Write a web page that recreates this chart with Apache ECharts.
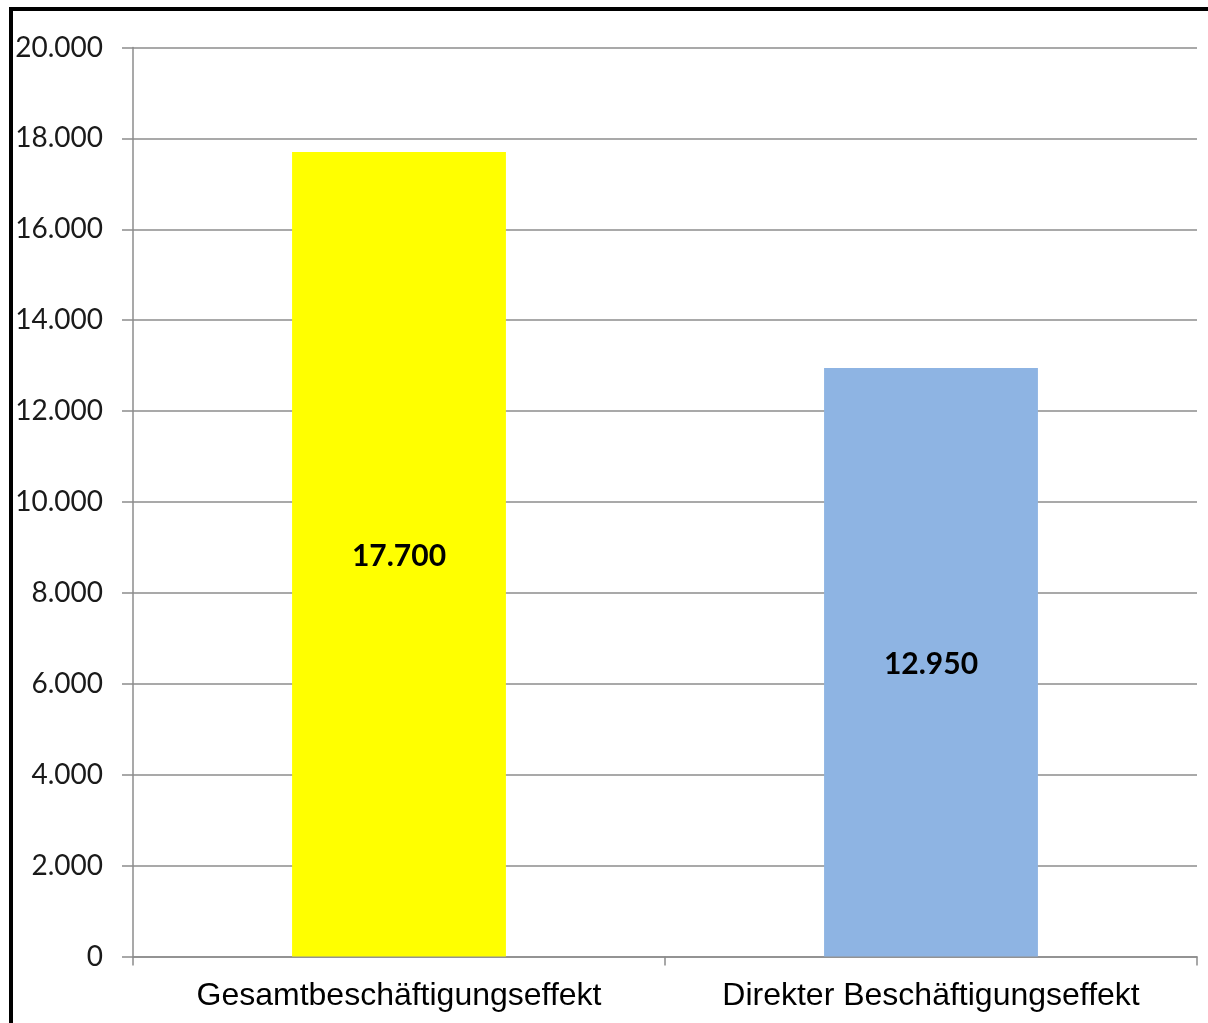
<!DOCTYPE html>
<html>
<head>
<meta charset="utf-8">
<script src="https://cdn.jsdelivr.net/npm/echarts@6/dist/echarts.min.js"></script>
<style>
  html, body { margin: 0; padding: 0; background: #fff; }
  #wrap { position: relative; width: 1208px; height: 1023px; overflow: hidden; }
  #chart { position: absolute; left: 0; top: 0; width: 1208px; height: 1023px; }
  .edge { position: absolute; background: #000; }
</style>
</head>
<body>
<div id="wrap">
  <div id="chart"></div>
  <div class="edge" style="left:9px; top:7px; width:1199px; height:4px;"></div>
  <div class="edge" style="left:9px; top:7px; width:4px; height:1016px;"></div>
</div>
<script>
// Beschäftigungseffekte (Anzahl Beschäftigte)
const categories = ['Gesamtbeschäftigungseffekt', 'Direkter Beschäftigungseffekt'];
const values = [17700, 12950];
const barColors = ['#FFFF00', '#8EB4E3'];
const yTicks = { min: 0, max: 20000, interval: 2000 };

// German number format: 17700 -> "17.700"
function fmt(v) {
  return String(Math.round(v)).replace(/\B(?=(\d{3})+(?!\d))/g, '.');
}

const chart = echarts.init(document.getElementById('chart'), null, { renderer: 'canvas' });
chart.setOption({
  animation: false,
  backgroundColor: '#fff',
  grid: { left: 133, top: 47.5, right: 11, bottom: 66.5, containLabel: false },
  xAxis: {
    type: 'category',
    data: categories,
    boundaryGap: true,
    axisLine: { show: true, lineStyle: { color: '#8c8c8c', width: 1.5 } },
    axisTick: { show: true, interval: 0, alignWithLabel: false, length: 9, lineStyle: { color: '#8c8c8c', width: 1.5 } },
    axisLabel: {
      interval: 0,
      hideOverlap: false,
      margin: 24,
      color: '#000',
      fontFamily: '"Liberation Sans", Arial, sans-serif',
      fontSize: 32
    },
    splitLine: { show: false }
  },
  yAxis: {
    type: 'value',
    min: yTicks.min,
    max: yTicks.max,
    interval: yTicks.interval,
    axisLine: { show: true, lineStyle: { color: '#8c8c8c', width: 1.5 } },
    axisTick: { show: true, length: 11, lineStyle: { color: '#8c8c8c', width: 1.5 } },
    axisLabel: {
      margin: 30,
      color: '#1a1a1a',
      fontFamily: 'Lato, "Open Sans", sans-serif',
      fontSize: 28,
      formatter: fmt
    },
    splitLine: { show: true, lineStyle: { color: '#8c8c8c', width: 1.5 } }
  },
  series: [{
    type: 'bar',
    data: values.map((v, i) => ({ value: v, itemStyle: { color: barColors[i] } })),
    barWidth: '40.2%',
    label: {
      show: true,
      position: 'inside',
      color: '#000',
      fontFamily: 'Lato, "Open Sans", sans-serif',
      fontWeight: 'bold',
      fontSize: 30,
      offset: [0, 2],
      formatter: p => fmt(p.value)
    }
  }]
});
</script>
</body>
</html>
